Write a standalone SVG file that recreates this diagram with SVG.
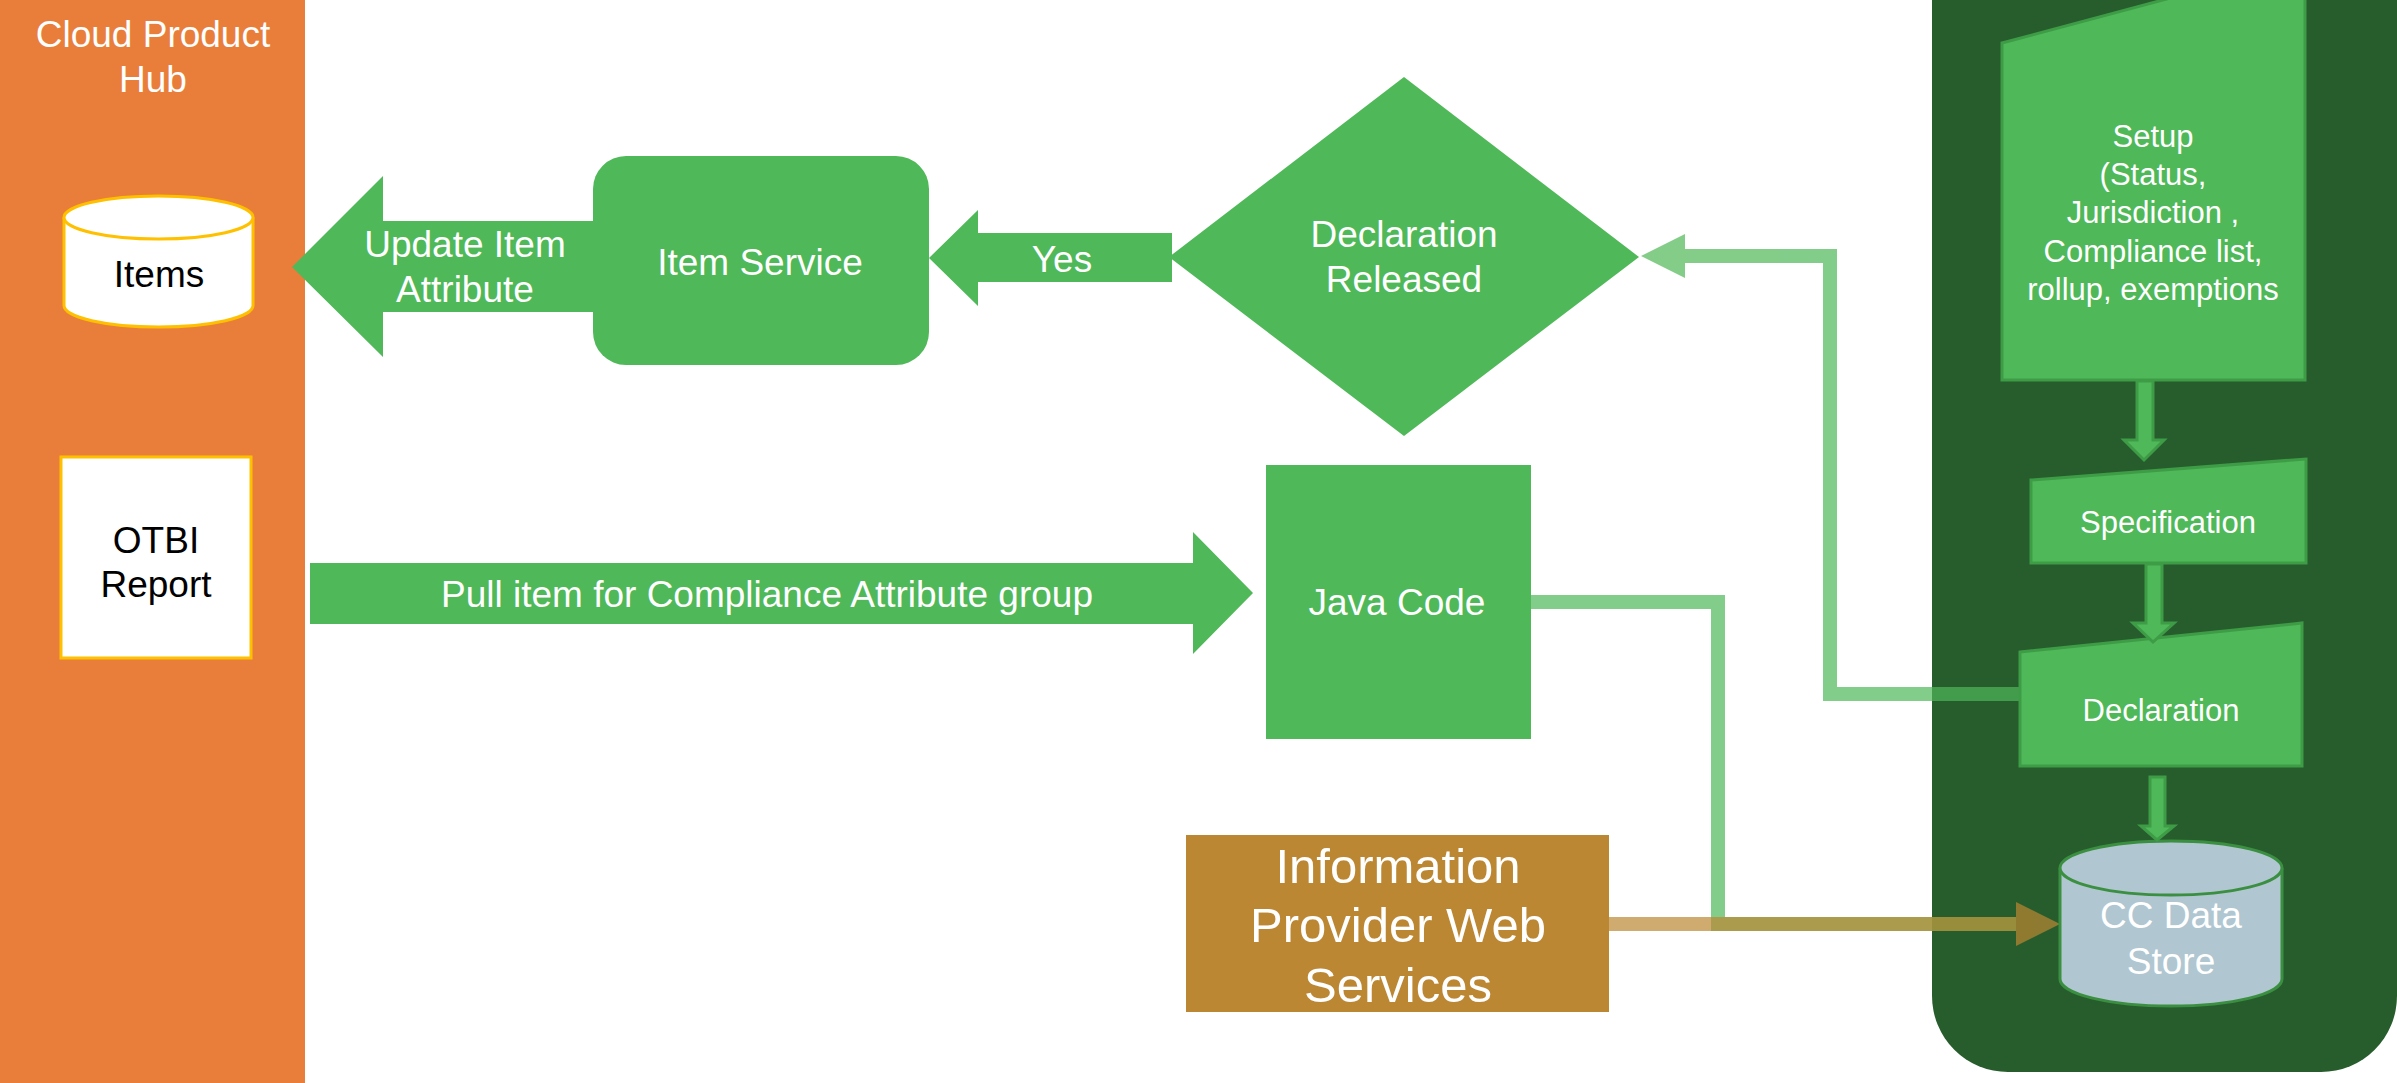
<svg xmlns="http://www.w3.org/2000/svg" width="2397" height="1083" viewBox="0 0 2397 1083">
  <style>
    text { font-family: "Liberation Sans", Arial, sans-serif; text-anchor: middle; }
    .w { fill: #FFFFFF; }
    .k { fill: #000000; }
    .f37 { font-size: 37px; }
    .f31 { font-size: 31px; }
    .f49 { font-size: 49px; }
    .green { fill: #4FB858; }
    .proc { fill: #4FB858; stroke: #3E9C47; stroke-width: 3; }
    .yel { fill: #FFFFFF; stroke: #FFC000; stroke-width: 3; }
  </style>
  <rect width="2397" height="1083" fill="#FFFFFF"/>

  <g id="cloud-product-hub">
    <rect x="0" y="0" width="305" height="1083" fill="#E97E3A"/>
    <text class="w f37" x="153" y="47">Cloud Product</text>
    <text class="w f37" x="153" y="92">Hub</text>
  </g>

  <g id="cc-panel">
    <path d="M1932,-10 L2397,-10 L2397,996 A76,76 0 0 1 2321,1072 L2008,1072 A76,76 0 0 1 1932,996 Z" fill="#275D2C"/>
  </g>

  <g id="items">
    <path class="yel" d="M64,217.5 L64,305.5 A94.5,21.5 0 0 0 253,305.5 L253,217.5"/>
    <ellipse class="yel" cx="158.5" cy="217.5" rx="94.5" ry="21.5"/>
    <text class="k f37" x="159" y="287">Items</text>
  </g>

  <g id="otbi-report">
    <rect class="yel" x="61" y="457" width="190" height="201"/>
    <text class="k f37" x="156" y="553">OTBI</text>
    <text class="k f37" x="156" y="597">Report</text>
  </g>

  <g id="connectors">
    <g id="update-item-attribute">
      <polygon class="green" points="292,267 383,176 383,221 600,221 600,312 383,312 383,357"/>
      <text class="w f37" x="465" y="257">Update Item</text>
      <text class="w f37" x="465" y="302">Attribute</text>
    </g>
    <g id="yes">
      <polygon class="green" points="929,258 978,210 978,233 1172,233 1172,282 978,282 978,306"/>
      <text class="w f37" x="1062" y="272">Yes</text>
    </g>
    <g id="pull-item">
      <polygon class="green" points="310,563 1193,563 1193,532 1253,593 1193,654 1193,624 310,624"/>
      <text class="w f37" x="767" y="607">Pull item for Compliance Attribute group</text>
    </g>
    <g id="declaration-feedback" opacity="0.7">
      <path d="M2020,694 L1830,694 L1830,256 L1684,256" fill="none" stroke="#4FB858" stroke-width="14" stroke-linejoin="miter"/>
      <polygon points="1641,256 1685,234 1685,278" fill="#4FB858"/>
    </g>
    <g id="java-to-store" opacity="0.7">
      <path d="M1531,602 L1718,602 L1718,924 L2016,924" fill="none" stroke="#4FB858" stroke-width="14" stroke-linejoin="miter"/>
    </g>
    <g id="provider-to-store" opacity="0.7">
      <path d="M1609,924 L2017,924" fill="none" stroke="#BC8733" stroke-width="14"/>
      <polygon points="2016,902 2060,924 2016,946" fill="#BC8733"/>
    </g>
  </g>

  <g id="item-service">
    <rect class="green" x="593" y="156" width="336" height="209" rx="33" ry="33"/>
    <text class="w f37" x="760" y="275">Item Service</text>
  </g>

  <g id="declaration-released">
    <polygon class="green" points="1404,77 1639,257 1404,436 1169,257"/>
    <text class="w f37" x="1404" y="247">Declaration</text>
    <text class="w f37" x="1404" y="292">Released</text>
  </g>

  <g id="java-code">
    <rect class="green" x="1266" y="465" width="265" height="274"/>
    <text class="w f37" x="1397" y="615">Java Code</text>
  </g>

  <g id="information-provider">
    <rect x="1186" y="835" width="423" height="177" fill="#BC8733"/>
    <text class="w f49" x="1398" y="883">Information</text>
    <text class="w f49" x="1398" y="942">Provider Web</text>
    <text class="w f49" x="1398" y="1002">Services</text>
  </g>

  <g id="setup">
    <polygon class="proc" points="2002,43 2305,-38 2305,380 2002,380"/>
    <text class="w f31" x="2153" y="147">Setup</text>
    <text class="w f31" x="2153" y="185">(Status,</text>
    <text class="w f31" x="2153" y="223">Jurisdiction ,</text>
    <text class="w f31" x="2153" y="262">Compliance list,</text>
    <text class="w f31" x="2153" y="300">rollup, exemptions</text>
  </g>

  <g id="specification">
    <polygon class="proc" points="2031,480 2306,459 2306,563 2031,563"/>
    <text class="w f31" x="2168" y="533">Specification</text>
  </g>

  <g id="declaration">
    <polygon class="proc" points="2020,652 2302,623 2302,766 2020,766"/>
    <text class="w f31" x="2161" y="721">Declaration</text>
  </g>

  <g id="cc-data-store">
    <path d="M2060,868 L2060,979 A111,27 0 0 0 2282,979 L2282,868" fill="#B0C6D1" stroke="#3B8F40" stroke-width="3"/>
    <ellipse cx="2171" cy="868" rx="111" ry="27" fill="#B0C6D1" stroke="#3B8F40" stroke-width="3"/>
    <text class="w f37" x="2171" y="928">CC Data</text>
    <text class="w f37" x="2171" y="974">Store</text>
  </g>

  <g id="panel-arrows">
    <polygon class="proc" stroke-width="2" points="2137,381 2153,381 2153,440 2164,440 2144,460 2124,440 2137,440"/>
    <polygon class="proc" stroke-width="2" points="2146,564 2162,564 2162,623 2174,623 2153,642 2133,623 2146,623"/>
    <polygon class="proc" stroke-width="2" points="2150,777 2165,777 2165,826 2174,826 2157,840 2141,826 2150,826"/>
  </g>
</svg>
